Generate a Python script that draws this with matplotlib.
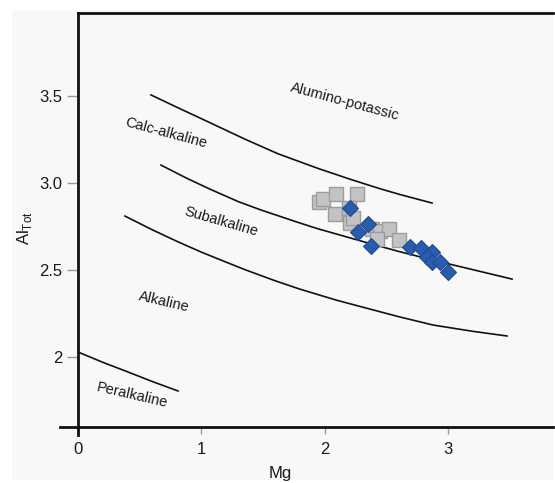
import matplotlib.pyplot as plt
from matplotlib.patches import Rectangle

plt.rcParams['font.family'] = ['Liberation Sans', 'DejaVu Sans']

# Mg, Al_tot : muestras grises (cuadrados)
gris_mg = [1.955, 1.987, 2.092, 2.263, 2.084, 2.198, 2.206, 2.230, 2.384, 2.449, 2.522, 2.425, 2.603]
gris_al = [2.891, 2.908, 2.937, 2.937, 2.822, 2.856, 2.770, 2.799, 2.736, 2.724, 2.736, 2.678, 2.672]

# muestras azules (rombos)
azul_mg = [2.206, 2.352, 2.271, 2.376, 2.693, 2.782, 2.871, 2.830, 2.871, 2.936, 3.001]
azul_al = [2.856, 2.764, 2.718, 2.638, 2.632, 2.626, 2.603, 2.575, 2.546, 2.546, 2.489]

curva1_x = [0.592, 0.800, 0.973, 1.354, 1.622, 1.946, 2.206, 2.450, 2.611, 2.871]
curva1_y = [3.506, 3.436, 3.379, 3.252, 3.168, 3.084, 3.022, 2.967, 2.934, 2.885]
curva2_x = [0.673, 0.880, 1.079, 1.300, 1.484, 1.800, 1.946, 2.344, 2.600, 2.879, 3.155, 3.520]
curva2_y = [3.103, 3.028, 2.962, 2.893, 2.845, 2.770, 2.737, 2.657, 2.607, 2.557, 2.510, 2.448]
curva3_x = [0.381, 0.600, 0.811, 1.000, 1.160, 1.354, 1.600, 1.800, 2.100, 2.344, 2.600, 2.879, 3.200, 3.479]
curva3_y = [2.810, 2.732, 2.662, 2.603, 2.557, 2.502, 2.438, 2.390, 2.326, 2.280, 2.232, 2.184, 2.148, 2.121]
curva4_x = [0.0, 0.200, 0.406, 0.600, 0.811]
curva4_y = [2.029, 1.970, 1.914, 1.860, 1.805]

# etiquetas de campo
campos = ['Alumino-potassic', 'Calc-alkaline', 'Subalkaline', 'Alkaline', 'Peralkaline']
campos_x = [2.165, 0.714, 1.160, 0.697, 0.438]
campos_y = [3.466, 3.287, 2.776, 2.316, 1.782]
campos_rot = [-15, -15, -16, -13, -13]

x_ticks = [0, 1, 2, 3]
y_ticks = [2, 2.5, 3.0, 3.5]
y_tick_labels = ['2', '2.5', '3.0', '3.5']

fig = plt.figure(figsize=(5.55, 4.83), dpi=100)
fig.patch.set_facecolor('white')
fondo = Rectangle((12 / 555, 3 / 483), 541 / 555, 470 / 483,
                  transform=fig.transFigure, facecolor='#f8f8f8',
                  edgecolor='none', zorder=-10)
fig.add_artist(fondo)

ax = fig.add_axes([60 / 555, 48 / 483, 493 / 555, 422 / 483])
ax.set_facecolor('none')
ax.set_zorder(1)
ax.set_xlim(-0.146, 3.852)
ax.set_ylim(1.552, 3.977)

for cx, cy in [(curva1_x, curva1_y), (curva2_x, curva2_y), (curva3_x, curva3_y), (curva4_x, curva4_y)]:
    ax.plot(cx, cy, color='#111111', lw=1.2, zorder=2, solid_joinstyle='round')

ax.plot(gris_mg, gris_al, ls='none', marker='s', ms=9.6, mfc='#c3c3c3',
        mec='#9c9c9c', mew=1.0, zorder=3)
ax.plot(azul_mg, azul_al, ls='none', marker='D', ms=8.0, mfc='#2a5cab',
        mec='#1d4a94', mew=0.8, zorder=4)

for t, x, y, r in zip(campos, campos_x, campos_y, campos_rot):
    ax.text(x, y, t, rotation=r, ha='center', va='center', fontsize=10.5,
            color='#1a1a1a', rotation_mode='anchor')

# ejes
ax.spines['right'].set_visible(False)
ax.spines['left'].set_position(('data', 0))
ax.spines['left'].set_bounds(1.552, 3.977)
ax.spines['bottom'].set_position(('data', 1.598))
ax.spines['top'].set_bounds(0, 3.852)
for s in ['left', 'bottom', 'top']:
    ax.spines[s].set_linewidth(2.0)
    ax.spines[s].set_color('#111111')

ax.set_xticks(x_ticks)
ax.set_yticks(y_ticks)
ax.set_yticklabels(y_tick_labels)
ax.tick_params(axis='x', direction='out', length=5, width=1, color='#999999',
               labelsize=12, labelcolor='#1a1a1a', pad=6)
ax.tick_params(axis='y', direction='out', length=8, width=1, color='#999999',
               labelsize=12, labelcolor='#1a1a1a', pad=3)
ax.tick_params(top=False, right=False)

fig.text(280 / 555, 1 - 466 / 483, 'Mg', ha='center', va='top', fontsize=12, color='#1a1a1a')
fig.text(25 / 555, 1 - 228 / 483, r'Al$_{\mathregular{Tot}}$', ha='center', va='center',
         rotation=90, fontsize=12, color='#1a1a1a')

fig.savefig('out.png', dpi=100)
